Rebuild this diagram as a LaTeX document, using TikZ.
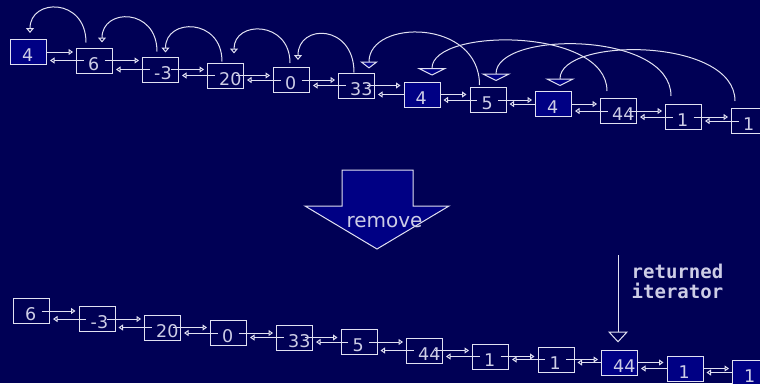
\documentclass[tikz,border=0pt]{standalone}
\usepackage{fontspec}
\setmainfont{DejaVu Sans}
\newfontfamily\monofam{DejaVu Sans Mono}
\usetikzlibrary{arrows.meta,calc}
\definecolor{bgc}{RGB}{0,0,85}
\definecolor{fillc}{RGB}{0,0,132}
\definecolor{linec}{RGB}{225,225,242}
\definecolor{txtc}{RGB}{205,205,230}
\pgfdeclarelayer{bg}
\pgfdeclarelayer{lines}
\pgfsetlayers{bg,lines,main}
\newcommand\listbox[5]{%
  \node[lbox,#5] (#1) at (#2,#3) {};
  \node[numtxt] (#1t) at ($(#1.south west)+(12,-3.5)$) {#4};
}
\begin{document}
\begin{tikzpicture}[x=1pt,y=-1pt,
  lbox/.style={draw=linec, line width=1pt, minimum width=36pt, minimum height=25pt, inner sep=0pt},
  filled/.style={fill=fillc},
  plain/.style={},
  numtxt/.style={anchor=base west, inner sep=0pt, text=txtc, font=\fontsize{17.5}{18}\selectfont},
  conn/.style={draw=linec, line width=1pt, -{Triangle[open, length=4.5pt, width=6pt]}},
  arcl/.style={draw=linec, line width=1pt},
  smalltip/.style={-{Triangle[length=5pt, width=8pt, fill=bgc]}},
  midtip/.style={-{Triangle[length=7pt, width=18pt, fill=fillc]}},
  bigtip/.style={-{Triangle[length=7.5pt, width=30pt, fill=fillc]}}]
\useasboundingbox (0,0) rectangle (760,383);
\begin{pgfonlayer}{bg}
  \fill[bgc] (0,0) rectangle (760,383);
\end{pgfonlayer}

% top row
\listbox{T1}{28.5}{52}{4}{filled}
\listbox{T2}{94.5}{60.5}{6}{plain}
\listbox{T3}{160.5}{69.5}{-3}{plain}
\listbox{T4}{225.5}{75.5}{20}{plain}
\listbox{T5}{291.5}{80}{0}{plain}
\listbox{T6}{356.5}{85.5}{33}{plain}
\listbox{T7}{422}{94.5}{4}{filled}
\listbox{T8}{488}{100}{5}{plain}
\listbox{T9}{553.5}{104}{4}{filled}
\listbox{T10}{618.5}{111}{44}{plain}
\listbox{T11}{683.5}{117}{1}{plain}
\listbox{T12}{749.5}{121}{1}{plain}

% bottom row
\listbox{B1}{31.5}{311}{6}{plain}
\listbox{B2}{97}{319}{-3}{plain}
\listbox{B3}{162.5}{327.5}{20}{plain}
\listbox{B4}{228.5}{333}{0}{plain}
\listbox{B5}{294.5}{337.5}{33}{plain}
\listbox{B6}{359}{342}{5}{plain}
\listbox{B7}{424.5}{350.5}{44}{plain}
\listbox{B8}{490.5}{356.5}{1}{plain}
\listbox{B9}{556}{359.5}{1}{plain}
\listbox{B10}{619.5}{362.5}{44}{filled}
\listbox{B11}{685}{368.5}{1}{filled}
\listbox{B12}{750.5}{372.5}{1}{filled}

\begin{pgfonlayer}{lines}
\foreach \r in {T,B}{
  \foreach \i [evaluate=\i as \j using int(\i+1)] in {1,...,11}{
    \draw[conn] ($(\r\i.center)+(10,0)$) -- ($(\r\j.west|-\r\i.center)+(-3,0)$);
    \draw[conn] ($(\r\j.center)+(-11,0)$) -- ($(\r\i.east|-\r\j.center)+(3,0)$);
  }
}
\end{pgfonlayer}

% small arcs (top row)
\draw[arcl,smalltip] ($(T2.north west)+(10,-5)$) .. controls +(0,-45) and +(0,-35) .. ($(T1.north)+(1.5,-6)$);
\draw[arcl,smalltip] ($(T3.north west)+(15,-5)$) .. controls +(0,-43.8) and +(0,-34.8) .. ($(T2.north)+(7.5,-5)$);
\draw[arcl,smalltip] ($(T4.north west)+(15,-1)$) .. controls +(0,-43.8) and +(0,-34.8) .. ($(T3.north)+(5,-4)$);
\draw[arcl,smalltip] ($(T5.north west)+(17,-4)$) .. controls +(0,-42.5) and +(0,-33.5) .. ($(T4.north)+(8.5,-9)$);
\draw[arcl,smalltip] ($(T6.north west)+(16,0)$) .. controls +(0,-48.7) and +(0,-36.7) .. ($(T5.north)+(6.5,-7)$);

% long arcs
\draw[arcl,midtip] ($(T8.north west)+(10,-2)$) .. controls +(0,-66.5) and +(0,-49.5) .. ($(T6.north)+(12.5,-4)$);
\draw[arcl,bigtip] ($(T10.north west)+(7,-7)$) .. controls +(0,-64) and +(0,-48) .. ($(T7.north)+(10,-6)$);
\draw[arcl,bigtip] ($(T11.north west)+(6,-8)$) .. controls +(0,-65.5) and +(0,-50.5) .. ($(T8.north)+(8,-6)$);
\draw[arcl,bigtip] ($(T12.north west)+(4,-7)$) .. controls +(0,-64.2) and +(0,-49.2) .. ($(T9.north)+(6.5,-5)$);

% remove arrow
\draw[draw=linec, fill=fillc, line width=1pt, line join=miter]
  (342,170) -- (413,170) -- (413,206) -- (449,206) -- (377,249) -- (305,206) -- (342,206) -- cycle;
\node[anchor=base, inner sep=0pt, text=txtc, font=\fontsize{20}{22}\selectfont] (rm) at (384.5,227) {remove};

% returned iterator
\coordinate (itop) at (618,255);
\draw[arcl, -{Triangle[length=11pt, width=20pt, fill=bgc]}] (itop) -- ($(B10.north)+(-1.5,-7)$);
\node[anchor=base west, inner sep=0pt, text=txtc, font=\monofam\bfseries\fontsize{19}{20}\selectfont] (rit1) at (631.5,278) {returned};
\node[anchor=base west, inner sep=0pt, text=txtc, font=\monofam\bfseries\fontsize{19}{20}\selectfont] (rit2) at (631.5,298) {iterator};
\end{tikzpicture}
\end{document}
